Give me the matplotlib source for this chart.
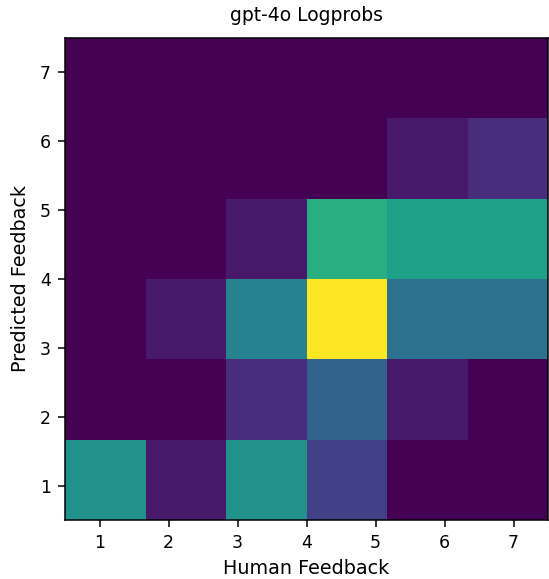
import numpy as np
import matplotlib
matplotlib.use("Agg")
import matplotlib.pyplot as plt

title = "gpt-4o Logprobs"
xlabel = "Human Feedback"
ylabel = "Predicted Feedback"
ticks = [1, 2, 3, 4, 5, 6, 7]

# counts[row][col]: rows = predicted bins (bottom->top), cols = human bins (left->right)
row0 = [8, 1, 8, 3, 0, 0]
row1 = [0, 0, 2, 5, 1, 0]
row2 = [0, 1, 7, 16, 6, 6]
row3 = [0, 0, 1, 10, 9, 9]
row4 = [0, 0, 0, 0, 1, 2]
row5 = [0, 0, 0, 0, 0, 0]
counts = np.array([row0, row1, row2, row3, row4, row5], dtype=float)

edges = np.linspace(0.5, 7.5, counts.shape[0] + 1)

fig = plt.figure(figsize=(5.49, 5.79), dpi=100)
ax = fig.add_axes([65 / 549, 59 / 579, 483 / 549, 482 / 579])
ax.pcolormesh(edges, edges, counts, cmap="viridis", vmin=0, vmax=counts.max())
ax.set_xlim(0.5, 7.5)
ax.set_ylim(0.5, 7.5)
ax.set_xticks(ticks)
ax.set_yticks(ticks)
ax.tick_params(labelsize=12.5, length=5, width=1.1, pad=5)
for s in ax.spines.values():
    s.set_linewidth(1.1)
ax.set_xlabel(xlabel, fontsize=13.8, labelpad=5)
ax.set_ylabel(ylabel, fontsize=13.8, labelpad=7)
ax.set_title(title, fontsize=13.5, pad=12)
fig.savefig("out.png", dpi=100)
